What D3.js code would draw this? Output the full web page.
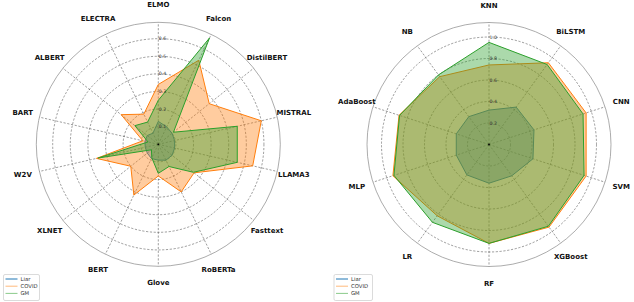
<!DOCTYPE html>
<html>
<head>
<meta charset="utf-8">
<script src="https://cdn.jsdelivr.net/npm/d3@7"></script>
<style>
  body { margin: 0; background: #fff; }
  svg { display: block; font-family: "DejaVu Sans", sans-serif; }
</style>
</head>
<body>
<div id="chart"></div>
<script>
// ---- data ----
var leftCats = ["ELMO","Falcon","DistilBERT","MISTRAL","LLAMA3","Fasttext","RoBERTa","Glove","BERT","XLNET","W2V","BART","ALBERT","ELECTRA"];
var liarLeft  = [0.13,0.11,0.10,0.095,0.095,0.10,0.10,0.09,0.09,0.08,0.076,0.078,0.08,0.07];
var covidLeft = [0.34,0.53,0.37,0.60,0.55,0.26,0.30,0.18,0.32,0.20,0.36,0.09,0.27,0.19];
var gmLeft    = [0.25,0.67,0.11,0.46,0.46,0.255,0.14,0.165,0.085,0.05,0.35,0.06,0.17,0.14];
var leftTicks = [0.1,0.2,0.3,0.4,0.5,0.6];

var rightCats = ["KNN","BiLSTM","CNN","SVM","XGBoost","RF","LR","MLP","AdaBoost","NB"];
var liarRight  = [0.32,0.43,0.44,0.43,0.36,0.36,0.35,0.32,0.32,0.32];
var covidRight = [0.74,0.94,0.95,0.95,0.95,0.92,0.82,0.94,0.88,0.78];
var gmRight    = [0.95,0.92,0.92,0.93,0.94,0.92,0.895,0.93,0.875,0.80];
var rightTicks = [0.2,0.4,0.6,0.8,1.0];

var seriesNames = ["Liar","COVID","GM"];
var colors = ["#1f77b4","#ff7f0e","#2ca02c"];

var W = 634, H = 302;
var svg = d3.select("#chart").append("svg")
  .attr("width", W).attr("height", H);
svg.append("rect").attr("width", W).attr("height", H).attr("fill", "#fff");

function radar(cx, cy, cats, series, rmax, ticks, fmt, legendPos) {
  var R = 122;
  var g = svg.append("g").attr("transform", "translate(" + cx + "," + cy + ")");
  var r = d3.scaleLinear().domain([0, rmax]).range([0, R]);
  var ang = d3.scaleLinear().domain([0, cats.length]).range([0, 2 * Math.PI]);

  // rings
  g.selectAll(".ring").data(ticks).enter().append("circle")
    .attr("r", function(d){ return r(d); })
    .attr("fill", "none").attr("stroke", "#333").attr("stroke-opacity", 0.8)
    .attr("stroke-width", 0.6).attr("stroke-dasharray", "2.2,1.6");
  // spokes
  g.selectAll(".spoke").data(cats).enter().append("line")
    .attr("x1", 0).attr("y1", 0)
    .attr("x2", function(d, i){ return R * Math.sin(ang(i)); })
    .attr("y2", function(d, i){ return -R * Math.cos(ang(i)); })
    .attr("stroke", "#333").attr("stroke-opacity", 0.8)
    .attr("stroke-width", 0.6).attr("stroke-dasharray", "2.2,1.6");
  // outer spine
  g.append("circle").attr("r", R).attr("fill", "none")
    .attr("stroke", "#888").attr("stroke-width", 0.7);

  // series
  var line = d3.lineRadial()
    .angle(function(d, i){ return ang(i); })
    .radius(function(d){ return r(d); })
    .curve(d3.curveLinearClosed);
  series.forEach(function(vals, k) {
    g.append("path").attr("d", line(vals))
      .attr("fill", "none").attr("stroke", colors[k]).attr("stroke-width", 1);
    g.append("path").attr("d", line(vals))
      .attr("fill", colors[k]).attr("fill-opacity", 0.4).attr("stroke", "none");
  });

  // tick labels
  g.selectAll(".tl").data(ticks).enter().append("text")
    .attr("x", 0.5).attr("y", function(d){ return -r(d); })
    .attr("dominant-baseline", "central")
    .attr("font-size", 4.6).attr("fill", "#333")
    .text(function(d){ return fmt(d); });
  g.append("circle").attr("r", 0.9).attr("fill", "#000");

  // category labels
  g.selectAll(".cl").data(cats).enter().append("text")
    .attr("x", function(d, i){ return 139 * Math.sin(ang(i)); })
    .attr("y", function(d, i){ return -139 * Math.cos(ang(i)); })
    .attr("text-anchor", "middle").attr("dominant-baseline", "central")
    .attr("font-size", 7).attr("font-weight", "bold").attr("fill", "#111")
    .text(function(d){ return d; });

  // legend
  var lg = svg.append("g").attr("transform", "translate(" + legendPos[0] + "," + legendPos[1] + ")");
  lg.append("rect").attr("width", legendPos[2]).attr("height", 26).attr("rx", 1.5)
    .attr("fill", "#fff").attr("stroke", "#ccc").attr("stroke-width", 0.7);
  seriesNames.forEach(function(n, k) {
    var y = 4.5 + k * 7.2;
    lg.append("line").attr("x1", 2).attr("x2", 14).attr("y1", y).attr("y2", y)
      .attr("stroke", colors[k]).attr("stroke-width", 1)
      .attr("stroke-opacity", k === 0 ? 1 : 0.55);
    lg.append("text").attr("x", 17).attr("y", y).attr("dominant-baseline", "central")
      .attr("font-size", 5.3).attr("fill", "#333").text(n);
  });
}

radar(158.3, 144.3, leftCats, [liarLeft, covidLeft, gmLeft], 0.693, leftTicks,
      d3.format(".1f"), [3.5, 274.5, 36]);
radar(489, 144.5, rightCats, [liarRight, covidRight, gmRight], 1.135, rightTicks,
      d3.format(".1f"), [334, 274.5, 38.5]);
</script>
</body>
</html>
